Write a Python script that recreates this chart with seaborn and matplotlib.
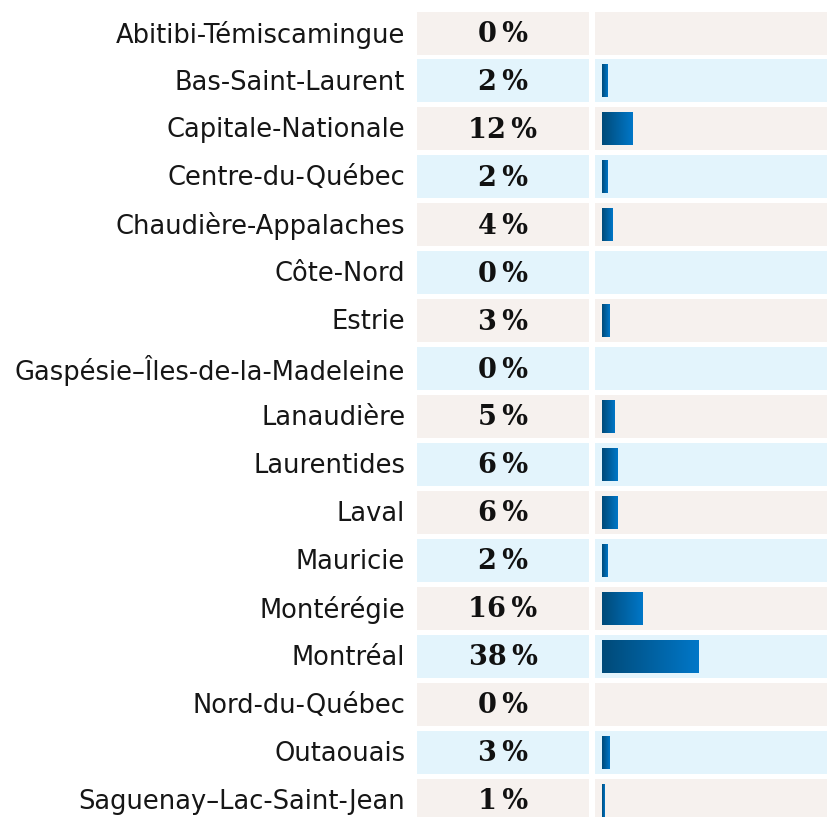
import numpy as np
import matplotlib
matplotlib.use("Agg")
import matplotlib.pyplot as plt
import seaborn as sns

regions = [
    "Abitibi-Témiscamingue", "Bas-Saint-Laurent", "Capitale-Nationale",
    "Centre-du-Québec", "Chaudière-Appalaches", "Côte-Nord", "Estrie",
    "Gaspésie–Îles-de-la-Madeleine", "Lanaudière", "Laurentides", "Laval",
    "Mauricie", "Montérégie", "Montréal", "Nord-du-Québec", "Outaouais",
    "Saguenay–Lac-Saint-Jean",
]
shares = [0, 2, 12, 2, 4, 0, 3, 0, 5, 6, 6, 2, 16, 38, 0, 3, 1]

row_colors = ["#f6f1ee", "#e3f4fc"]
grad_left = "#004a78"
grad_right = "#0077c8"

sns.set_style("white")
plt.rcParams["font.family"] = ["DejaVu Sans"]

W, H = 827, 817
fig = plt.figure(figsize=(W / 100, H / 100), dpi=100)

pitch = 47.94
top_px = 33
ylim = ((H - top_px) / pitch, -top_px / pitch)
half = 43 / pitch / 2

ax_pct = fig.add_axes([417 / W, 0, 172 / W, 1])
ax_bar = fig.add_axes([595 / W, 0, 232 / W, 1])
n = len(regions)

# bars
sns.barplot(x=shares, y=regions, orient="h", ax=ax_bar, width=33 / pitch,
            color=grad_right, linewidth=0, zorder=2)
bars = list(ax_bar.patches)
px_per_pct = 2.53
xlim = (-7 / px_per_pct, 225 / px_per_pct)

cmap = matplotlib.colors.LinearSegmentedColormap.from_list("g", [grad_left, grad_right])
grad = np.linspace(0, 1, 256).reshape(1, -1)
for p in bars:
    if p.get_width() <= 0:
        p.set_visible(False)
        continue
    x0, y0 = p.get_x(), p.get_y()
    w, h = p.get_width(), p.get_height()
    im = ax_bar.imshow(grad, cmap=cmap, aspect="auto",
                       extent=[x0, x0 + w, y0 + h, y0], zorder=3,
                       interpolation="bicubic")
    im.set_clip_path(p)
    p.set_facecolor("none")

# row backgrounds
for ax in (ax_pct, ax_bar):
    for i in range(n):
        ax.axhspan(i - half, i + half, color=row_colors[i % 2], lw=0, zorder=0)

ax_bar.set_xlim(*xlim)
ax_bar.set_ylim(*ylim)
ax_bar.axis("off")

# percentage column
ax_pct.set_xlim(0, 1)
ax_pct.set_ylim(*ylim)
for i, v in enumerate(shares):
    ax_pct.text(0.5, i + 0.03, f"{v}\u2009%", ha="center", va="center",
                fontsize=19.5, fontweight="bold", family=["DejaVu Serif"],
                color="#111111")
ax_pct.set_xticks([])
ax_pct.set_yticks(np.arange(n) - 0.03)
ax_pct.set_yticklabels(regions, fontsize=18.5, color="#161616")
ax_pct.tick_params(axis="y", length=0, pad=8.5)
for s in ax_pct.spines.values():
    s.set_visible(False)

fig.savefig("out.png", dpi=100, facecolor="white")
